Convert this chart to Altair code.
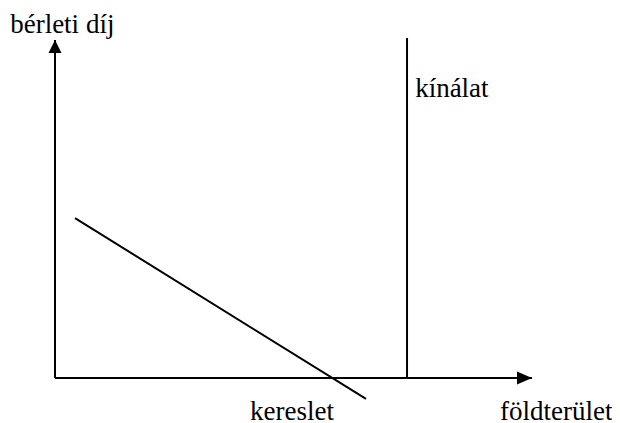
import altair as alt
import pandas as pd

# Segment data (quantity = x, rent = y), in data units of the diagram
seg_name = ["y_axis", "x_axis", "demand", "supply"]
seg_x = [0.0, 0.0, 4.2, 73.8]
seg_y = [0.0, 0.0, 47.3, 0.0]
seg_x2 = [0.0, 100.0, 65.2, 73.8]
seg_y2 = [100.0, 0.0, -6.2, 100.6]

# Labels
lab_text = ["bérleti díj", "kínálat", "kereslet", "földterület"]
lab_x = [-9.4, 75.5, 40.9, 93.3]
lab_y = [102.1, 83.1, -12.3, -12.3]

segs = pd.DataFrame({"name": seg_name, "x": seg_x, "y": seg_y, "x2": seg_x2, "y2": seg_y2})
labels = pd.DataFrame({"text": lab_text, "x": lab_x, "y": lab_y})
arrow_up = pd.DataFrame({"x": [seg_x2[0]], "y": [seg_y2[0]]})
arrow_right = pd.DataFrame({"x": [seg_x2[1]], "y": [seg_y2[1]]})

xs = alt.Scale(domain=[0, 100], nice=False, zero=False)
ys = alt.Scale(domain=[0, 100], nice=False, zero=False)

lines = alt.Chart(segs).mark_rule(color="black", strokeWidth=2).encode(
    x=alt.X("x:Q", scale=xs, axis=None),
    y=alt.Y("y:Q", scale=ys, axis=None),
    x2="x2:Q",
    y2="y2:Q",
)

up = alt.Chart(arrow_up).mark_point(
    shape="M0,0L-1,2L1,2Z", size=169, filled=True, color="black", opacity=1, strokeWidth=0
).encode(x=alt.X("x:Q", scale=xs, axis=None), y=alt.Y("y:Q", scale=ys, axis=None))

right = alt.Chart(arrow_right).mark_point(
    shape="M0,0L-2,-0.866L-2,0.866Z", size=225, filled=True, color="black", opacity=1, strokeWidth=0
).encode(x=alt.X("x:Q", scale=xs, axis=None), y=alt.Y("y:Q", scale=ys, axis=None))

text = alt.Chart(labels).mark_text(
    align="left", baseline="alphabetic", font="Liberation Serif", fontSize=27, color="black"
).encode(
    x=alt.X("x:Q", scale=xs, axis=None),
    y=alt.Y("y:Q", scale=ys, axis=None),
    text="text:N",
)

chart = alt.layer(lines, up, right, text).properties(
    width=477,
    height=338,
    padding={"left": 47, "top": 32, "right": 80, "bottom": 45},
    autosize=alt.AutoSizeParams(type="none"),
    background="white",
).configure_view(stroke=None)

chart.save("out.html", embed_options={"renderer": "svg", "actions": False})
